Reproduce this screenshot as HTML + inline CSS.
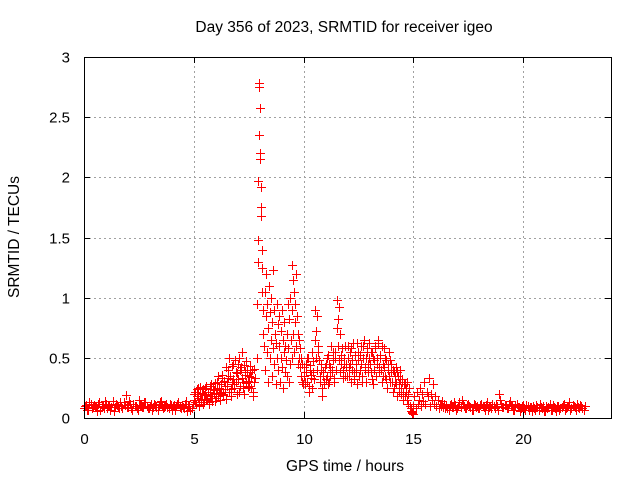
<!DOCTYPE html>
<html><head><meta charset="utf-8"><style>
body{margin:0;background:#fff}
svg{display:block;font-family:"Liberation Sans",sans-serif}
</style></head><body>
<svg id="chart" width="640" height="480" viewBox="0 0 640 480">
<text x="344" y="32" font-size="15.5" text-anchor="middle">Day 356 of 2023, SRMTID for receiver igeo</text>
<text x="345" y="471" font-size="15.5" text-anchor="middle">GPS time / hours</text>
<text x="0" y="0" font-size="15.5" text-anchor="middle" transform="translate(19,237) rotate(-90)">SRMTID / TECUs</text>
<g id="grid"></g>
<g id="ticks"></g>
<g id="points"></g>
<rect x="84.5" y="57.5" width="527" height="361" fill="none" stroke="#000" stroke-width="1"/>
</svg>
<script>
const xTicks=[0,5,10,15,20];
const yTicks=[0,0.5,1,1.5,2,2.5,3];
const yTickLabels=["0","0.5","1","1.5","2","2.5","3"];
const segStarts=[0,0.05,5,5.025,7.88,8.2,9.45,10,10.025,15,16.5,16.55];
const segSteps=[0.1,0.1,0.05,0.05,0.015,0.025,0.025,0.05,0.05,0.05,0.1,0.1];
const segA=[0.08,0.11,0.07,0.12,0.09,0.1,0.06,0.13,0.09,0.08,0.12,0.1,0.07,0.14,0.09,0.11,0.08,0.1,0.13,0.19,0.09,0.12,0.07,0.1,0.08,0.15,0.11,0.09,0.13,0.08,0.1,0.07,0.12,0.09,0.11,0.14,0.08,0.1,0.09,0.12,0.07,0.11,0.1,0.13,0.08,0.09,0.12,0.06,0.1,0.08];
const segA2=[0.1,0.07,0.13,0.08,0.11,0.09,0.12,0.07,0.1,0.14,0.08,0.11,0.09,0.06,0.12,0.1,0.13,0.08,0.11,0.09,0.14,0.08,0.12,0.1,0.07,0.11,0.09,0.13,0.1,0.08,0.12,0.09,0.11,0.07,0.13,0.1,0.09,0.12,0.08,0.11,0.1,0.07,0.12,0.09,0.11,0.08,0.14,0.1,0.07,0.12];
const segB=[0.15,0.22,0.12,0.18,0.25,0.1,0.2,0.16,0.24,0.13,0.19,0.27,0.15,0.22,0.12,0.2,0.28,0.17,0.23,0.14,0.21,0.3,0.18,0.25,0.15,0.22,0.33,0.19,0.27,0.16,0.3,0.4,0.22,0.35,0.18,0.28,0.45,0.25,0.38,0.2,0.32,0.5,0.27,0.42,0.55,0.3,0.2,0.38,0.47,0.26,0.35,0.43,0.25,0.4,0.18,0.3];
const segB2=[0.2,0.13,0.24,0.17,0.11,0.26,0.15,0.21,0.12,0.19,0.25,0.16,0.22,0.13,0.27,0.18,0.14,0.24,0.2,0.29,0.17,0.24,0.35,0.21,0.28,0.36,0.2,0.31,0.24,0.42,0.27,0.33,0.5,0.24,0.43,0.32,0.28,0.48,0.3,0.37,0.45,0.22,0.4,0.33,0.25,0.44,0.36,0.29,0.4,0.31,0.27,0.38,0.34,0.22,0.41,0.33];
const segC=[0.5,0.95,1.3,1.48,1.97,2.35,2.75,2.78,2.58,2.2,2.15,1.92,1.75,1.68,1.4,1.25,1.05,0.9,0.7];
const segD=[0.6,1.05,0.4,0.85,1.2,0.55,0.95,0.3,0.75,1.1,0.5,0.88,0.65,1.0,0.35,0.8,0.58,1.23,0.45,0.9,0.7,0.28,0.62,0.95,0.5,0.78,0.4,0.85,0.6,0.3,0.72,0.5,0.9,0.42,0.65,0.25,0.55,0.8,0.38,0.6,0.48,0.7,0.35,0.95,0.58,0.3,0.82,0.45,1.0,0.65,0.5];
const segE=[1.27,0.9,1.15,0.7,1.05,0.55,0.95,0.8,1.2,0.6,0.85,0.45,0.7,0.5,0.65,0.42,0.58,0.35,0.5,0.3,0.45,0.28];
const segF=[0.35,0.28,0.45,0.3,0.5,0.22,0.4,0.33,0.55,0.38,0.9,0.72,0.85,0.6,0.48,0.3,0.4,0.18,0.35,0.28,0.45,0.35,0.52,0.3,0.42,0.6,0.38,0.48,0.33,0.55,0.98,0.82,0.92,0.7,0.45,0.58,0.4,0.5,0.35,0.45,0.6,0.42,0.55,0.3,0.48,0.62,0.38,0.52,0.45,0.28,0.55,0.4,0.6,0.35,0.5,0.65,0.42,0.3,0.58,0.45,0.62,0.38,0.55,0.28,0.48,0.6,0.35,0.5,0.65,0.42,0.52,0.3,0.45,0.58,0.35,0.48,0.25,0.4,0.55,0.3,0.45,0.22,0.38,0.3,0.42,0.18,0.35,0.28,0.4,0.2,0.32,0.15,0.28,0.22,0.3,0.12,0.25,0.1,0.06,0.04];
const segF2=[0.42,0.3,0.38,0.5,0.27,0.44,0.36,0.25,0.47,0.32,0.65,0.5,0.4,0.55,0.35,0.45,0.25,0.38,0.3,0.42,0.32,0.5,0.28,0.45,0.35,0.4,0.55,0.3,0.5,0.4,0.75,0.6,0.48,0.38,0.52,0.33,0.45,0.6,0.42,0.35,0.5,0.35,0.45,0.58,0.4,0.32,0.52,0.38,0.62,0.48,0.35,0.52,0.45,0.3,0.6,0.4,0.5,0.55,0.38,0.5,0.45,0.55,0.32,0.5,0.4,0.58,0.45,0.62,0.38,0.5,0.4,0.6,0.35,0.42,0.5,0.32,0.45,0.35,0.48,0.38,0.3,0.4,0.25,0.35,0.28,0.38,0.22,0.32,0.25,0.3,0.22,0.28,0.18,0.25,0.15,0.2,0.1,0.08,0.05,0.03];
const segG=[0.1,0.18,0.08,0.22,0.12,0.15,0.25,0.1,0.2,0.14,0.3,0.12,0.22,0.18,0.33,0.1,0.2,0.15,0.28,0.12,0.18,0.1,0.15,0.08,0.12,0.1,0.14,0.09,0.12,0.08];
const segH=[0.1,0.07,0.12,0.09,0.11,0.08,0.13,0.15,0.1,0.08,0.12,0.09,0.07,0.11,0.1,0.08,0.12,0.09,0.11,0.07,0.1,0.12,0.08,0.1,0.2,0.12,0.09,0.11,0.08,0.14,0.1,0.07,0.12,0.09,0.08,0.11,0.07,0.1,0.09,0.06,0.08,0.11,0.07,0.09,0.1,0.06,0.08,0.12,0.07,0.09,0.06,0.1,0.08,0.11,0.07,0.09,0.13,0.08,0.1,0.07,0.09,0.11,0.08,0.1];
const segH2=[0.08,0.11,0.09,0.13,0.07,0.1,0.09,0.12,0.08,0.11,0.1,0.07,0.12,0.09,0.08,0.11,0.1,0.07,0.13,0.09,0.08,0.1,0.12,0.07,0.15,0.09,0.11,0.08,0.12,0.1,0.07,0.11,0.09,0.06,0.1,0.08,0.11,0.07,0.09,0.1,0.07,0.09,0.12,0.08,0.06,0.1,0.09,0.07,0.11,0.08,0.1,0.07,0.09,0.12,0.08,0.1,0.07,0.11,0.09,0.12,0.08,0.1,0.07];
const segValues=[segA,segA2,segB,segB2,segC,segD,segE,segF,segF2,segG,segH,segH2];

const NS="http://www.w3.org/2000/svg";
const X0=84,X1=611,Y0=418,Y1=57,XMAX=24,YMAX=3;
function xs(h){return X0+(h/XMAX)*(X1-X0);}
function ys(v){return Y0-(v/YMAX)*(Y0-Y1);}
function mk(tag,attrs,parent){const e=document.createElementNS(NS,tag);for(const k in attrs)e.setAttribute(k,attrs[k]);parent.appendChild(e);return e;}
const grid=document.getElementById('grid'),ticks=document.getElementById('ticks'),pts=document.getElementById('points');
xTicks.forEach(t=>{
  const x=Math.round(xs(t))+0.5;
  if(t>0){const g=mk('line',{x1:x,y1:Y0,x2:x,y2:Y1,stroke:'#a0a0a0','stroke-dasharray':'2,3'},grid);
  
  }
  mk('line',{x1:x,y1:Y0,x2:x,y2:Y0-6,stroke:'#000'},ticks);
  mk('line',{x1:x,y1:Y1,x2:x,y2:Y1+6,stroke:'#000'},ticks);
  const l=mk('text',{x:x,y:Y0+26,'font-size':15,'text-anchor':'middle'},ticks);
  l.textContent=t;
  
  
});
yTicks.forEach((t,i)=>{
  const y=Math.round(ys(t))+0.5;
  if(t>0&&t<YMAX){const g=mk('line',{x1:X0,y1:y,x2:X1,y2:y,stroke:'#a0a0a0','stroke-dasharray':'2,3'},grid);
  
  }
  mk('line',{x1:X0,y1:y,x2:X0+6,y2:y,stroke:'#000'},ticks);
  mk('line',{x1:X1,y1:y,x2:X1-6,y2:y,stroke:'#000'},ticks);
  const l=mk('text',{x:X0-14,y:y+5,'font-size':15,'text-anchor':'end'},ticks);
  l.textContent=yTickLabels[i];
  
  
});
let d='';
segValues.forEach((vals,s)=>{
  vals.forEach((v,i)=>{
    const x=Math.round(xs(segStarts[s]+i*segSteps[s])),y=Math.round(ys(v));
    d+=`M${x-4} ${y+0.5}h9M${x+0.5} ${y-4}v9`;
  });
});
const p=mk('path',{d:d,stroke:'#ff0000','stroke-width':1.3,fill:'none','shape-rendering':'crispEdges'},pts);


</script>
</body></html>
